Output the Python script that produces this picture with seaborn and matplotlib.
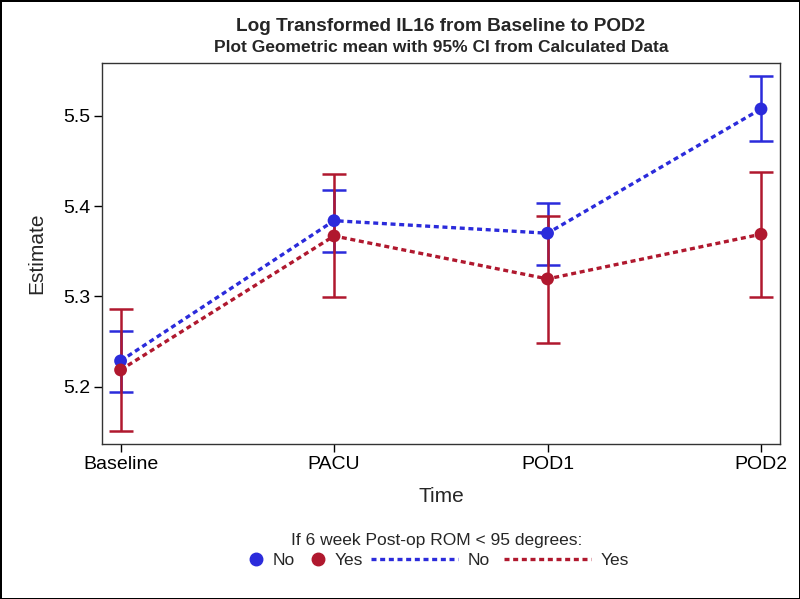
import matplotlib
matplotlib.use("Agg")
import matplotlib.pyplot as plt
from matplotlib.lines import Line2D
import pandas as pd
import seaborn as sns

time_points = ["Baseline", "PACU", "POD1", "POD2"]

no_estimate = [5.2285, 5.3838, 5.3699, 5.5075]
no_lower = [5.1945, 5.3495, 5.3344, 5.4718]
no_upper = [5.2617, 5.4175, 5.4034, 5.5444]

yes_estimate = [5.2185, 5.3669, 5.3193, 5.3688]
yes_lower = [5.1510, 5.2993, 5.2487, 5.2993]
yes_upper = [5.2864, 5.4352, 5.3890, 5.4380]

group_col = "If 6 week Post-op ROM < 95 degrees:"
blue = "#2B2BDB"
red = "#B0182E"
palette = {"No": blue, "Yes": red}
dots = (0, (1.5, 1.1))


def build_frame():
    rows = []
    for grp, est, lo, hi in [("No", no_estimate, no_lower, no_upper),
                             ("Yes", yes_estimate, yes_lower, yes_upper)]:
        for i, t in enumerate(time_points):
            rows.append({"Time": t, "pos": i, group_col: grp,
                         "Estimate": est[i], "lower": lo[i], "upper": hi[i]})
    return pd.DataFrame(rows)


def main():
    data = build_frame()

    sns.set_style("ticks")
    plt.rcParams["font.family"] = ["Liberation Sans", "DejaVu Sans"]

    fig = plt.figure(figsize=(8.0, 5.99), dpi=100)
    fig.patch.set_edgecolor("black")
    fig.patch.set_linewidth(2)
    ax = fig.add_axes([0.1275, 0.2588, 0.8475, 0.636])

    sns.lineplot(data=data, x="pos", y="Estimate", hue=group_col,
                 palette=palette, ax=ax, lw=2.4, legend=False,
                 style=group_col, dashes={"No": dots[1], "Yes": dots[1]})

    for grp, c in palette.items():
        d = data[data[group_col] == grp]
        ax.errorbar(d["pos"], d["Estimate"],
                    yerr=[d["Estimate"] - d["lower"], d["upper"] - d["Estimate"]],
                    fmt="none", ecolor=c, elinewidth=1.8, capsize=8.5,
                    capthick=1.8, zorder=3)

    sns.scatterplot(data=data, x="pos", y="Estimate", hue=group_col,
                    palette=palette, ax=ax, s=85, edgecolor="none",
                    legend=False, zorder=4)

    ax.set_xlim(-0.087, 3.089)
    ax.set_ylim(5.1365, 5.5584)
    ax.set_xticks(range(len(time_points)))
    ax.set_xticklabels(time_points)
    ax.set_yticks([5.2, 5.3, 5.4, 5.5])
    ax.tick_params(labelsize=14, length=5.5, width=1, colors="black", pad=3)
    ax.set_xlabel("Time", fontsize=15, labelpad=10)
    ax.set_ylabel("Estimate", fontsize=15, labelpad=12)
    for s in ax.spines.values():
        s.set_visible(True)
        s.set_color("#333333")
        s.set_linewidth(1)

    fig.text(0.551, 0.955, "Log Transformed IL16 from Baseline to POD2",
             ha="center", va="center", fontsize=13.7, fontweight="bold")
    fig.text(0.551, 0.921, "Plot Geometric mean with 95% CI from Calculated Data",
             ha="center", va="center", fontsize=12.5, fontweight="bold")

    # legend: title, marker entries and line entries
    fig.text(0.546, 0.097, group_col, ha="center", va="center", fontsize=12.5)
    marker_handles = [
        Line2D([], [], marker="o", ls="none", color=blue, markersize=9),
        Line2D([], [], marker="o", ls="none", color=red, markersize=9),
    ]
    line_handles = [
        Line2D([], [], color=blue, lw=2.4, ls=dots),
        Line2D([], [], color=red, lw=2.4, ls=dots),
    ]
    leg1 = fig.legend(marker_handles, ["No", "Yes"], loc="center",
                      bbox_to_anchor=(0.382, 0.064), ncol=2, frameon=False,
                      fontsize=12.5, handlelength=0.9, columnspacing=0.9,
                      handletextpad=0.5, borderaxespad=0, borderpad=0)
    fig.legend(line_handles, ["No", "Yes"], loc="center",
               bbox_to_anchor=(0.625, 0.064), ncol=2, frameon=False,
               fontsize=12.5, handlelength=5.0, columnspacing=0.8,
               handletextpad=0.55, borderaxespad=0, borderpad=0)

    fig.savefig("out.png", dpi=100, edgecolor=fig.get_edgecolor())


if __name__ == "__main__":
    main()
